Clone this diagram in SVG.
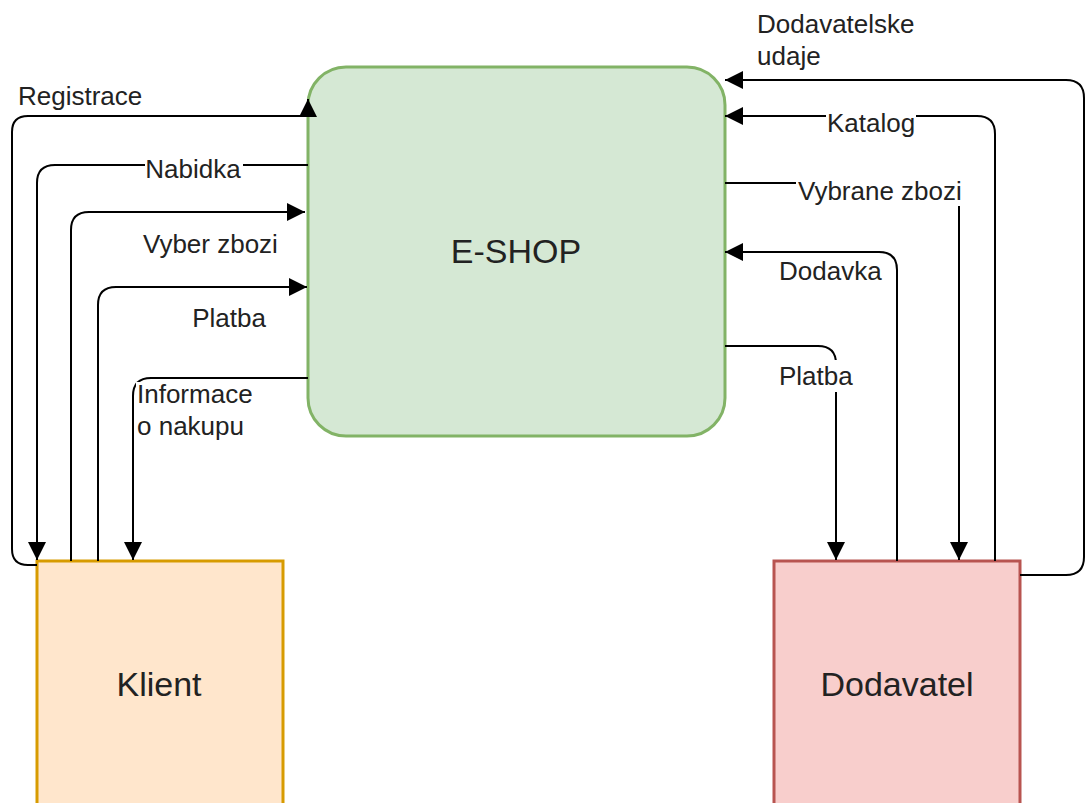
<svg xmlns="http://www.w3.org/2000/svg" width="1086" height="803" viewBox="0 0 1086 803">
  <style>
    .edge { fill: none; stroke: #000; stroke-width: 2; }
    .lbl { font-family: "Liberation Sans", Arial, Helvetica, sans-serif; font-size: 26px; fill: #222; }
    .node-text { font-family: "Liberation Sans", Arial, Helvetica, sans-serif; font-size: 34px; fill: #222; text-anchor: middle; }
    .lbl-bg { fill: #fff; }
  </style>
  <defs>
    <marker id="arrow" markerUnits="userSpaceOnUse" markerWidth="18" markerHeight="18" refX="18" refY="9" orient="auto">
      <path d="M0,0 L18,9 L0,18 z" fill="#000"/>
    </marker>
  </defs>

  <rect width="1086" height="803" fill="#fff"/>

  <!-- process node -->
  <g id="eshop">
    <rect x="308" y="67" width="417" height="369" rx="38" ry="38" fill="#d5e8d4" stroke="#82b366" stroke-width="3"/>
    <text class="node-text" x="516" y="263">E-SHOP</text>
  </g>

  <!-- external entities -->
  <g id="klient">
    <rect x="37" y="561" width="246" height="260" fill="#ffe6cc" stroke="#d79b00" stroke-width="3"/>
    <text class="node-text" x="159" y="696">Klient</text>
  </g>
  <g id="dodavatel">
    <rect x="774" y="561" width="246" height="260" fill="#f8cecc" stroke="#b85450" stroke-width="3"/>
    <text class="node-text" x="897" y="696">Dodavatel</text>
  </g>

  <!-- data flows -->
  <g id="connectors">
    <!-- Klient side -->
    <path class="edge" d="M37,565 H28 Q12,565 12,549 V132 Q12,116 28,116 H308 V99" marker-end="url(#arrow)"/>
    <path class="edge" d="M308,165 H55 Q37,165 37,183 V560" marker-end="url(#arrow)"/>
    <path class="edge" d="M71,561 V230 Q71,212 89,212 H305" marker-end="url(#arrow)"/>
    <path class="edge" d="M98,561 V305 Q98,287 116,287 H307" marker-end="url(#arrow)"/>
    <path class="edge" d="M308,378 H151 Q133,378 133,396 V560" marker-end="url(#arrow)"/>

    <!-- Dodavatel side -->
    <path class="edge" d="M1020,575 H1066 Q1084,575 1084,557 V98 Q1084,80 1066,80 H725" marker-end="url(#arrow)"/>
    <path class="edge" d="M995,561 V134 Q995,116 977,116 H725" marker-end="url(#arrow)"/>
    <path class="edge" d="M725,183 H941 Q959,183 959,201 V560" marker-end="url(#arrow)"/>
    <path class="edge" d="M897,561 V270 Q897,252 879,252 H725" marker-end="url(#arrow)"/>
    <path class="edge" d="M725,346 H818 Q836,346 836,364 V560" marker-end="url(#arrow)"/>

    <!-- flow labels -->
    <text class="lbl" x="18" y="105">Registrace</text>

    <rect class="lbl-bg" x="145" y="154" width="98" height="28"/>
    <text class="lbl" x="193" y="178" text-anchor="middle">Nabidka</text>

    <text class="lbl" x="143" y="253">Vyber zbozi</text>
    <text class="lbl" x="229" y="327" text-anchor="middle">Platba</text>

    <rect class="lbl-bg" x="136" y="382" width="122" height="60"/>
    <text class="lbl" x="137" y="403">Informace</text>
    <text class="lbl" x="137" y="435">o nakupu</text>

    <text class="lbl" x="757" y="33">Dodavatelske</text>
    <text class="lbl" x="757" y="65">udaje</text>

    <rect class="lbl-bg" x="826" y="106" width="90" height="30"/>
    <text class="lbl" x="871" y="132" text-anchor="middle">Katalog</text>

    <rect class="lbl-bg" x="796" y="176" width="170" height="30"/>
    <text class="lbl" x="798" y="200">Vybrane zbozi</text>

    <text class="lbl" x="779" y="280">Dodavka</text>

    <rect class="lbl-bg" x="776" y="360" width="82" height="32"/>
    <text class="lbl" x="779" y="385">Platba</text>
  </g>
</svg>
